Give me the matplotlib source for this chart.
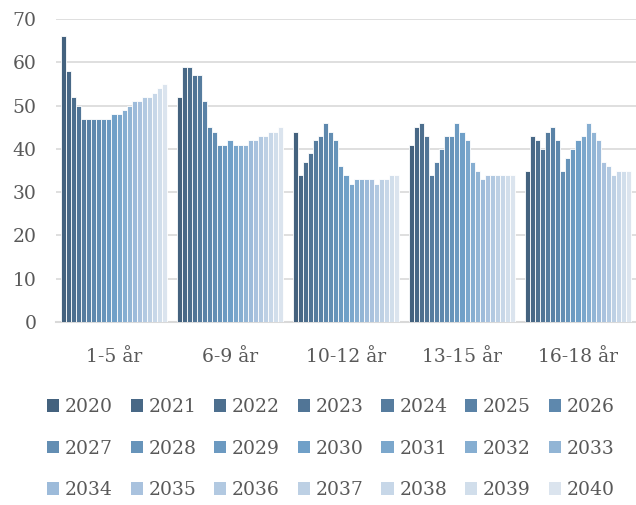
import numpy as np
import matplotlib
matplotlib.use("Agg")
import matplotlib.pyplot as plt
from matplotlib.colors import LinearSegmentedColormap
from matplotlib.patches import Patch

plt.rcParams['font.family'] = ['DejaVu Serif']

categories = ['1-5 år', '6-9 år', '10-12 år', '13-15 år', '16-18 år']
years = [str(y) for y in range(2020, 2041)]

# one list per age group, value for each year 2020..2040
g_1_5 = [66, 58, 52, 50, 47, 47, 47, 47, 47, 47, 48, 48, 49, 50, 51, 51, 52, 52, 53, 54, 55]
g_6_9 = [52, 59, 59, 57, 57, 51, 45, 44, 41, 41, 42, 41, 41, 41, 42, 42, 43, 43, 44, 44, 45]
g_10_12 = [44, 34, 37, 39, 42, 43, 46, 44, 42, 36, 34, 32, 33, 33, 33, 33, 32, 33, 33, 34, 34]
g_13_15 = [41, 45, 46, 43, 34, 37, 40, 43, 43, 46, 44, 42, 37, 35, 33, 34, 34, 34, 34, 34, 34]
g_16_18 = [35, 43, 42, 40, 44, 45, 42, 35, 38, 40, 42, 43, 46, 44, 42, 37, 36, 34, 35, 35, 35]

data = np.array([g_1_5, g_6_9, g_10_12, g_13_15, g_16_18])

cmap = LinearSegmentedColormap.from_list(
    'blues', ['#44627e', '#5a82a6', '#70a0c8', '#a8c2de', '#dbe4ee'])
colors = [cmap(i / 20) for i in range(21)]

fig = plt.figure(figsize=(6.36, 5.05), dpi=100)
ax = fig.add_axes([0.088, 0.3624, 0.912, 0.5996])

n = len(years)
x = np.arange(len(categories))
group_w = 0.92
bw = group_w / n
for i in range(n):
    ax.bar(x - group_w / 2 + bw * (i + 0.5), data[:, i], width=bw,
           color=colors[i], edgecolor='white', linewidth=0.6, zorder=3)

ax.set_xlim(-0.5, len(categories) - 0.5)
ax.set_ylim(0, 70)
ax.set_yticks(range(0, 71, 10))
ax.set_xticks(x)
ax.set_xticklabels(categories)
ax.yaxis.grid(True, color='#d9d9d9', linewidth=1.2, zorder=0)
ax.set_axisbelow(True)
for s in ['top', 'right', 'left']:
    ax.spines[s].set_visible(False)
ax.spines['bottom'].set_color('#d9d9d9')
ax.spines['bottom'].set_linewidth(1.5)
ax.tick_params(axis='both', length=0, labelsize=13.5, colors='#595959')
ax.tick_params(axis='y', pad=14)
ax.tick_params(axis='x', pad=19)

# legend fills column by column, so reorder to read row by row
ncol, nrow = 7, 3
order = [r * ncol + c for c in range(ncol) for r in range(nrow)]
handles = [Patch(facecolor=colors[i], edgecolor='none') for i in order]
labels = [years[i] for i in order]
fig.legend(handles, labels, loc='upper center', bbox_to_anchor=(0.52, 0.245),
           ncol=ncol, frameon=False, fontsize=13.5, handlelength=0.65,
           handleheight=0.65, handletextpad=0.3, columnspacing=0.95,
           labelspacing=1.25, labelcolor='#595959')

fig.savefig('out.png', dpi=100)
